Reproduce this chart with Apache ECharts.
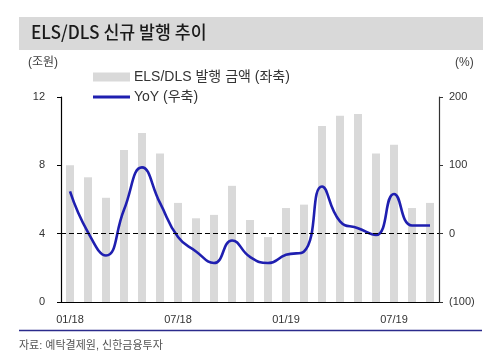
<!DOCTYPE html>
<html><head><meta charset="utf-8">
<script src="https://cdn.jsdelivr.net/npm/echarts@6/dist/echarts.min.js"></script>
<style>html,body{margin:0;padding:0;background:#fff}#c{width:500px;height:357px}</style>
</head><body><div id="c"></div>
<script>
const categories = ['01/18','02/18','03/18','04/18','05/18','06/18','07/18','08/18','09/18','10/18','11/18','12/18',
  '01/19','02/19','03/19','04/19','05/19','06/19','07/19','08/19','09/19'];
const issueAmount = [8.0,7.3,6.1,8.9,9.9,8.7,5.8,4.9,5.1,6.8,4.8,3.8,5.5,5.7,10.3,10.9,11.0,8.7,9.2,5.5,5.8];
const yoy = [62,2,-32,35,97,45,-5,-26,-43,-10,-34,-43,-31,-26,69,18,8,-2,58,12,12];
const leftTicks = [0,4,8,12];
const rightTicks = [-100,0,100,200];
const titleText = 'ELS/DLS 신규 발행 추이';
const barName = 'ELS/DLS 발행 금액 (좌축)';
const lineName = 'YoY (우축)';
const sourceText = '자료: 예탁결제원, 신한금융투자';

const FONT = '"Liberation Sans","Noto Sans CJK KR",sans-serif';
const chart = echarts.init(document.getElementById('c'), null, {renderer:'canvas'});
chart.setOption({
  animation:false,
  backgroundColor:'#fff',
  textStyle:{fontFamily:FONT},
  graphic:[
    {type:'rect', shape:{x:19,y:17,width:464,height:33}, style:{fill:'#d9d9d9'}},
    {type:'text', x:31, y:23, scaleX:0.96, style:{text:titleText, font:'500 18px "Noto Sans CJK KR",sans-serif', fill:'#1a1a1a'}},
    {type:'text', left:28, top:57, style:{text:'(조원)', font:'12px ' + FONT, fill:'#404040'}},
    {type:'text', left:455, top:57, style:{text:'(%)', font:'12px ' + FONT, fill:'#404040'}},
    {type:'line', shape:{x1:19,y1:330.5,x2:482,y2:330.5}, style:{stroke:'#2b2b8c', lineWidth:1.5}},
    {type:'text', left:19, top:340, style:{text:sourceText, font:'11px ' + FONT, fill:'#555'}}
  ],
  legend:[
    {left:93, top:70, padding:0, itemWidth:37, itemHeight:9, itemGap:6, icon:'rect', data:[barName],
     textStyle:{fontSize:14, color:'#333', fontFamily:FONT, padding:[0,0,0,-1]}},
    {left:93, top:90, padding:0, itemWidth:37, itemHeight:3, icon:'rect', data:[lineName],
     textStyle:{fontSize:14, color:'#333', fontFamily:FONT, padding:[0,0,0,-1]}}
  ],
  grid:{left:61, right:61, top:97, bottom:55},
  xAxis:{
    type:'category', data:categories, boundaryGap:true,
    axisLine:{lineStyle:{color:'#000', width:1.2}},
    axisTick:{interval:5, length:4, lineStyle:{color:'#000'}},
    axisLabel:{interval:5, fontSize:11, color:'#333', margin:12}
  },
  yAxis:[
    {type:'value', min:0, max:12, interval:4, position:'left',
     axisLine:{show:true, lineStyle:{color:'#000', width:1.2}},
     axisTick:{show:true, length:4, lineStyle:{color:'#000'}},
     axisLabel:{fontSize:11, color:'#333', margin:16,
       formatter:v=>leftTicks.includes(v)?String(v):''},
     splitLine:{show:false}},
    {type:'value', min:-100, max:200, interval:100, position:'right',
     axisLine:{show:true, lineStyle:{color:'#333', width:1.2}},
     axisTick:{show:true, length:4, lineStyle:{color:'#333'}},
     axisLabel:{fontSize:11, color:'#333', margin:10,
       formatter:v=>rightTicks.includes(v)?(v<0?'('+Math.abs(v)+')':String(v)):''},
     splitLine:{show:false}}
  ],
  series:[
    {name:barName, type:'bar', yAxisIndex:0, data:issueAmount, barWidth:8,
     itemStyle:{color:'#d9d9d9'}},
    {name:lineName, type:'line', yAxisIndex:1, data:yoy, smooth:0.5, showSymbol:false, symbol:'none',
     lineStyle:{color:'#1f1fb0', width:2.6}, itemStyle:{color:'#1f1fb0'},
     markLine:{silent:true, symbol:'none', label:{show:false},
       lineStyle:{color:'#000', type:[5,3], width:1.2},
       data:[{yAxis:0}]}}
  ]
});
</script></body></html>
